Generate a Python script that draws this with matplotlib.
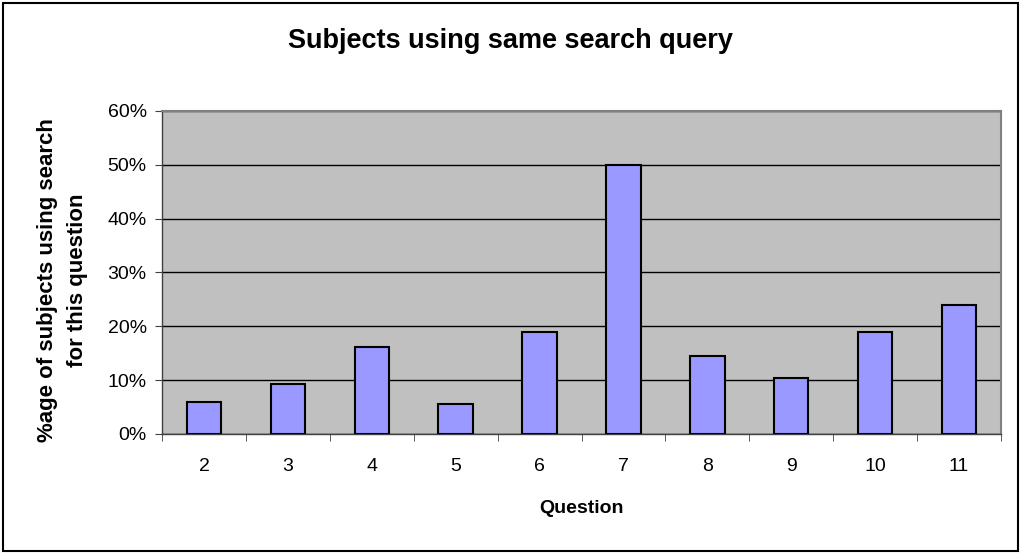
import matplotlib.pyplot as plt
import numpy as np
from matplotlib.patches import Rectangle

questions = ['2', '3', '4', '5', '6', '7', '8', '9', '10', '11']
pct = [5.9, 9.3, 16.1, 5.6, 19.0, 50.0, 14.5, 10.4, 19.0, 23.9]

plt.rcParams['font.family'] = ['Liberation Sans', 'DejaVu Sans']

fig = plt.figure(figsize=(10.21, 5.53), dpi=100)
ax = fig.add_axes([0.1587, 0.2152, 0.8217, 0.5841])

# outer frame of the chart
fig.patches.append(Rectangle((0.003, 0.003), 0.994, 0.992, transform=fig.transFigure,
                             fill=False, edgecolor='black', linewidth=1.5))

x = np.arange(len(questions))
ax.set_facecolor('#C0C0C0')
ax.bar(x, pct, width=0.41, color='#9999FF', edgecolor='black', linewidth=1.5, zorder=3)

ax.set_xlim(-0.5, len(questions) - 0.5)
ax.set_ylim(0, 60)
ax.set_yticks(np.arange(0, 61, 10))
ax.set_yticklabels([f'{v}%' for v in range(0, 61, 10)], fontsize=14)
ax.yaxis.grid(True, color='black', linewidth=1)
ax.set_axisbelow(True)

ax.set_xticks(x)
ax.set_xticklabels(questions, fontsize=14)
ax.set_xticks(np.arange(-0.5, len(questions)), minor=True)
ax.tick_params(axis='x', which='major', length=0, pad=17)
ax.tick_params(axis='x', which='minor', length=5, direction='out', color='#404040')
ax.tick_params(axis='y', length=5, direction='out', color='#404040', pad=6)

for s in ['top', 'right']:
    ax.spines[s].set_color('#808080')
    ax.spines[s].set_linewidth(1.5)
for s in ['left', 'bottom']:
    ax.spines[s].set_color('#404040')
    ax.spines[s].set_linewidth(1)

ax.set_xlabel('Question', fontsize=14, fontweight='bold')
ax.xaxis.set_label_coords(0.5, -0.205)
ax.set_ylabel('%age of subjects using search\nfor this question', fontsize=16,
              fontweight='bold', linespacing=1.55)
ax.yaxis.set_label_coords(-0.088, 0.477)
fig.text(0.5, 0.926, 'Subjects using same search query', ha='center', va='center',
         fontsize=19.5, fontweight='bold')

fig.savefig('out.png', dpi=100)
